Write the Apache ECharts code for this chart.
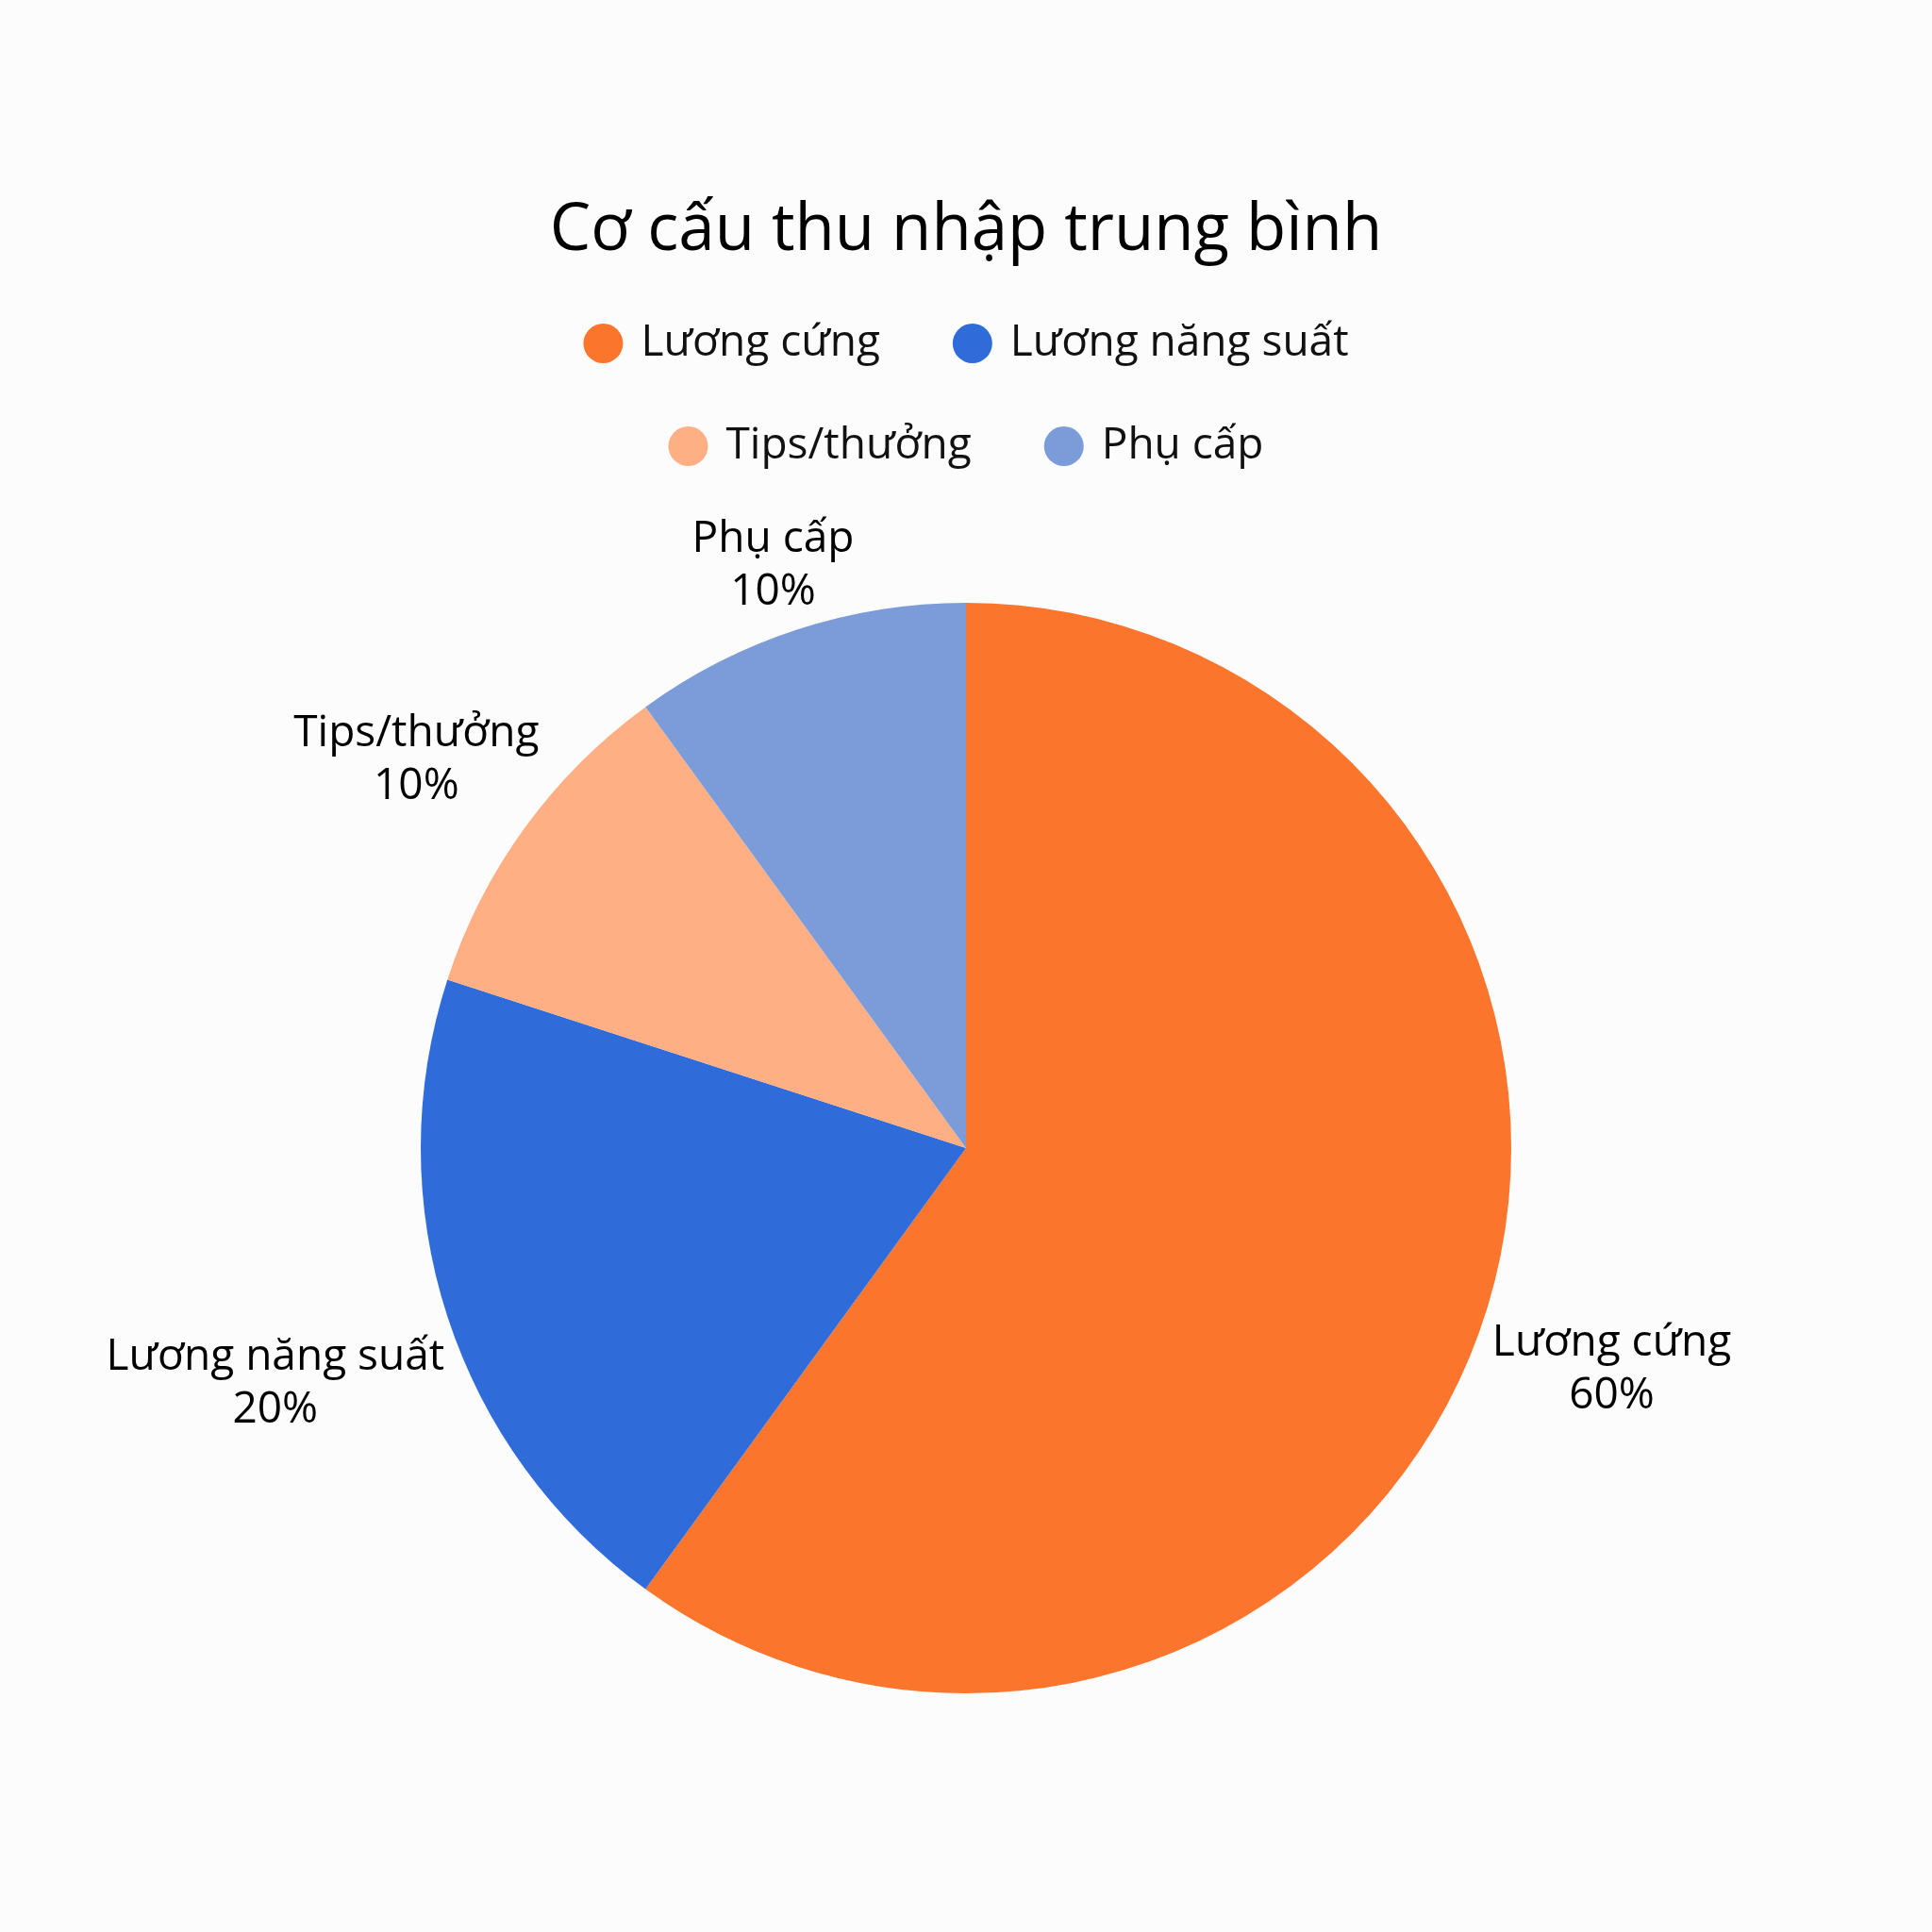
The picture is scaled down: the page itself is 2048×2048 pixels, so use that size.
<!DOCTYPE html>
<html>
<head>
<meta charset="utf-8">
<title>Cơ cấu thu nhập trung bình</title>
<script src="https://cdn.jsdelivr.net/npm/echarts@6/dist/echarts.min.js"></script>
<style>
  html, body { margin: 0; padding: 0; background: #fcfcfc; }
  #main { width: 2048px; height: 2048px; }
</style>
</head>
<body>
<div id="main"></div>
<script>
let categories = ['Lương cứng', 'Lương năng suất', 'Tips/thưởng', 'Phụ cấp'];
let values = [60, 20, 10, 10];
let colors = ['#fc752d', '#2f6cd9', '#ffaf83', '#7b9cd9'];

let chartDom = document.getElementById('main');
let pieChart = echarts.init(chartDom);

const fontName = 'Open Sans';
const pieCenterY = 1217;
const pieRadius = 578;

let total = 0;
for (let i = 0; i < values.length; i++) {
  total += values[i];
}

// mid angle of each slice, degrees, start at 12 o'clock going clockwise
const midAngle = (idx) => {
  let before = 0;
  for (let i = 0; i < idx; i++) {
    before += values[i];
  }
  return 90 - 360 * (before + values[idx] / 2) / total;
}

let pieData = [];
for (let i = 0; i < categories.length; i++) {
  pieData.push({ name: categories[i], value: values[i], itemStyle: { color: colors[i] } });
}

const legendStyle = {
  left: 'center',
  orient: 'horizontal',
  icon: 'circle',
  itemWidth: 42,
  itemHeight: 42,
  itemGap: 77,
  textStyle: {
    fontFamily: fontName,
    fontSize: 46,
    color: '#111',
    padding: [0, 0, 0, 14]
  }
}

let option = {
  backgroundColor: '#fcfcfc',
  color: colors,
  title: {
    text: 'Cơ cấu thu nhập trung bình',
    left: 'center',
    top: 206,
    textStyle: {
      fontFamily: fontName,
      fontSize: 69,
      fontWeight: 'normal',
      color: '#000'
    }
  },
  legend: [
    Object.assign({}, legendStyle, { top: 336, data: categories.slice(0, 2) }),
    Object.assign({}, legendStyle, { top: 445, data: categories.slice(2, 4) })
  ],
  series: [
    {
      type: 'pie',
      center: ['50%', pieCenterY],
      radius: pieRadius,
      startAngle: 90,
      clockwise: true,
      data: pieData,
      emphasis: { disabled: true },
      label: {
        show: true,
        position: 'outside',
        formatter: '{b}\n{d}%',
        fontFamily: fontName,
        fontSize: 46,
        lineHeight: 56,
        color: '#000'
      },
      labelLine: { show: false },
      labelLayout: function (params) {
        let a = midAngle(params.dataIndex) * Math.PI / 180;
        let c = Math.cos(a);
        let s = Math.sin(a);
        let w = params.labelRect.width / 2;
        let h = params.labelRect.height / 2;
        let dist = pieRadius + 4 + w * Math.abs(c) + h * Math.abs(s);
        return {
          x: pieChart.getWidth() / 2 + dist * c,
          y: pieCenterY - dist * s + 12,
          align: 'center',
          verticalAlign: 'middle'
        };
      }
    }
  ]
}

if (option && typeof option === 'object') {
  pieChart.setOption(option, true);
}
</script>
</body>
</html>
